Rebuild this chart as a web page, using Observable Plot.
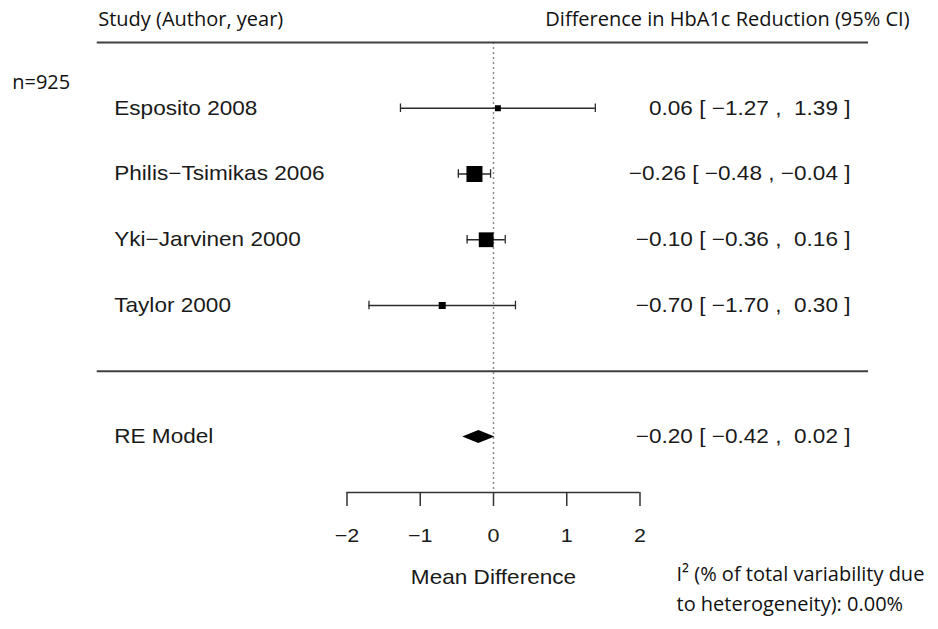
<!DOCTYPE html>
<html>
<head>
<meta charset="utf-8">
<script src="https://cdn.jsdelivr.net/npm/d3@7"></script>
<script src="https://cdn.jsdelivr.net/npm/@observablehq/plot@0.6"></script>
<style>
  html, body { margin: 0; padding: 0; background: #fff; }
  #chart svg text { white-space: pre; }
</style>
</head>
<body>
<div id="chart"></div>
<script>
// ---------------- data ----------------
const studies   = ["Esposito 2008", "Philis\u2212Tsimikas 2006", "Yki\u2212Jarvinen 2000", "Taylor 2000"];
const estimates = [0.06, -0.26, -0.10, -0.70];
const lowerCI   = [-1.27, -0.48, -0.36, -1.70];
const upperCI   = [1.39, -0.04, 0.16, 0.30];
const weights   = [2, 52, 46, 7];           // relative study weights (box size)
const summaryLabel = "RE Model";
const summaryEst = -0.20, summaryLower = -0.42, summaryUpper = 0.02;
const xTicks = [-2, -1, 0, 1, 2];
const headerLeft  = "Study (Author, year)";
const headerRight = "Difference in HbA1c Reduction (95% CI)";
const sampleNote  = "n=925";
const xLabel      = "Mean Difference";
const hetNote     = "I\u00B2 (% of total variability due\nto heterogeneity): 0.00%";

// ---------------- layout ----------------
const W = 938, H = 629;
const yDomain = [5, -1], yRange = [42, 436.5];
const rowPx = (yRange[1] - yRange[0]) / (yDomain[0] - yDomain[1]);
const axisPx = 492;
const toRow = d3.scaleLinear().domain(yRange).range(yDomain);
const axisRow = toRow(axisPx);
const xlim = [-5.41, 5.12];
const capHalf = 4.3 / rowPx;
const diamondHalf = 6.5 / rowPx;

const minus = v => (v < 0 ? "\u2212" : "") + Math.abs(v).toFixed(2);
function fmtCol(vals) {
  const anyNeg = vals.some(v => v < 0);
  return vals.map(v => (v < 0 ? "" : (anyNeg ? " " : "")) + minus(v));
}
const allEst = fmtCol([...estimates, summaryEst]);
const allLo  = fmtCol([...lowerCI, summaryLower]);
const allHi  = fmtCol([...upperCI, summaryUpper]);
const annot = allEst.map((e, i) => `${e} [ ${allLo[i]} , ${allHi[i]} ]`);

const rows = studies.map((s, i) => ({
  label: s, est: estimates[i], lo: lowerCI[i], hi: upperCI[i], w: weights[i],
  row: studies.length - i, text: annot[i]
}));
const summaryRow = {label: summaryLabel, row: -1, text: annot[annot.length - 1]};
const caps = rows.flatMap(d => [{x: d.lo, row: d.row}, {x: d.hi, row: d.row}]);
const diamond = [
  {x: summaryLower, y1: -1, y2: -1},
  {x: summaryEst, y1: -1 - diamondHalf, y2: -1 + diamondHalf},
  {x: summaryUpper, y1: -1, y2: -1}
];

const RFONT = "Liberation Sans, Arial, sans-serif";
const CFONT = "Open Sans, sans-serif";
const ink = "#1a1a1a";

const svg = Plot.plot({
  width: W, height: H,
  marginTop: 0, marginRight: 0, marginLeft: 0, marginBottom: H - axisPx,
  style: {background: "white", overflow: "visible"},
  x: {domain: [-2, 2], range: [346.5, 639.5]},
  y: {domain: yDomain, range: yRange, axis: null},
  r: {type: "linear", domain: [2, 52], range: [6 / Math.sqrt(Math.PI), 16 / Math.sqrt(Math.PI)]},
  marks: [
    // reference line at 0
    Plot.ruleX([0], {y1: yDomain[0], y2: axisRow, stroke: "#8a8a8a", strokeWidth: 1.5, strokeDasharray: "2,3"}),
    // horizontal separators
    Plot.ruleY([yDomain[0], 0], {x1: xlim[0], x2: xlim[1], stroke: "#404040", strokeWidth: 2}),
    // axis line + ticks
    Plot.ruleY([axisRow], {x1: xTicks[0], x2: xTicks[xTicks.length - 1], stroke: "#333", strokeWidth: 1.5}),
    Plot.axisX({
      ticks: xTicks, tickSize: 14, tickPadding: 22, label: null,
      tickFormat: d => (d < 0 ? "\u2212" : "") + Math.abs(d),
      fontSize: 19, fontFamily: RFONT, stroke: "#333", strokeWidth: 1.5, fill: ink
    }),
    // whiskers & caps
    Plot.ruleY(rows, {y: "row", x1: "lo", x2: "hi", stroke: "#2a2a2a", strokeWidth: 1.3}),
    Plot.ruleX(caps, {x: "x", y1: d => d.row - capHalf, y2: d => d.row + capHalf, stroke: "#2a2a2a", strokeWidth: 1.3}),
    // boxes
    Plot.dot(rows, {x: "est", y: "row", r: "w", symbol: "square", fill: "black", stroke: null}),
    // summary diamond
    Plot.areaY(diamond, {x: "x", y1: "y1", y2: "y2", fill: "black", curve: "linear"}),
    // study labels
    Plot.text([...rows, summaryRow], {
      x: () => xlim[0], y: "row", text: "label", textAnchor: "start", dx: 17,
      lineAnchor: "middle", fontSize: 20, fontFamily: RFONT, fill: ink
    }),
    // annotations
    Plot.text([...rows, summaryRow], {
      x: () => xlim[1], y: "row", text: "text", textAnchor: "end", dx: -18,
      lineAnchor: "middle", fontSize: 20, fontFamily: RFONT, fill: ink
    }),
    // x label
    Plot.text([xLabel], {
      x: () => 0, frameAnchor: "top", dy: 583, text: d => d, textAnchor: "middle",
      lineAnchor: "bottom", fontSize: 20, fontFamily: RFONT, fill: ink
    }),
    // headers
    Plot.text([headerLeft], {
      x: () => xlim[0], frameAnchor: "top", dy: 25.7, dx: 1, text: d => d, textAnchor: "start",
      lineAnchor: "bottom", fontSize: 20, fontFamily: CFONT, fill: "#111"
    }),
    Plot.text([headerRight], {
      x: () => xlim[1], frameAnchor: "top", dy: 25.7, dx: 41, text: d => d, textAnchor: "end",
      lineAnchor: "bottom", fontSize: 20, fontFamily: CFONT, fill: "#111"
    }),
    Plot.text([sampleNote], {
      frameAnchor: "top-left", dx: 11.7, dy: 88.3, text: d => d, textAnchor: "start",
      lineAnchor: "bottom", fontSize: 20, fontFamily: CFONT, fill: "#111"
    }),
    Plot.text([hetNote], {
      frameAnchor: "top-left", dx: 676, dy: 610.7, text: d => d, textAnchor: "start",
      lineAnchor: "bottom", lineHeight: 1.5, fontSize: 20, fontFamily: CFONT, fill: "#111"
    })
  ]
});

// R-style text in the reference is horizontally widened
d3.select(svg).selectAll("text").each(function () {
  const g = this.closest("g[font-family]");
  if (g && /Liberation/.test(g.getAttribute("font-family"))) {
    const t = this.getAttribute("transform") || "";
    this.setAttribute("transform", t + " scale(1.13,1)");
  }
});

document.getElementById("chart").appendChild(svg);
</script>
</body>
</html>
